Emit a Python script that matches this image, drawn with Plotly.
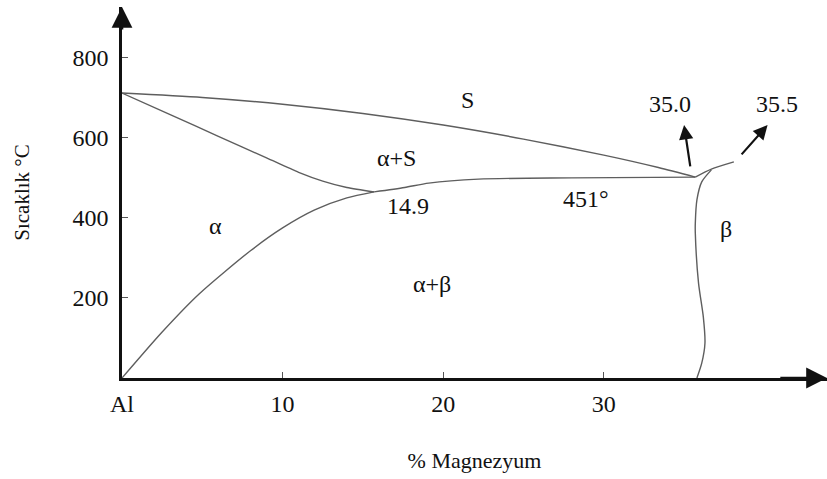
import plotly.graph_objects as go

# Al-Mg phase boundaries: (wt% Mg, temperature in °C)
liquidus_x = [0, 5, 10, 15, 20, 25, 30, 33.4, 35.7]
liquidus_t = [712, 701, 684, 661, 632, 597, 557, 526, 502]

solidus_x = [0, 3, 6, 9, 11, 12.5, 14.0, 15.7]
solidus_t = [712, 658, 604, 550, 514, 492, 476, 465]

solvus_x = [0, 2.5, 4.8, 8.0, 10.0, 12.0, 14.0, 15.7]
solvus_t = [0, 115, 210, 318, 375, 420, 450, 465]

eutectic_x = [15.7, 17.6, 19.1, 22.2, 28.0, 35.7]
eutectic_t = [465, 476, 487, 497, 500, 502]

beta_liq_x = [35.7, 36.7, 38.1]
beta_liq_t = [502, 522, 540]

beta_solvus_x = [36.7, 36.1, 35.8, 35.7, 35.7, 35.9, 36.2, 36.3, 36.1, 35.8]
beta_solvus_t = [520, 490, 445, 387, 362, 237, 152, 87, 37, 0]

# region and point labels: (text, wt% Mg, °C)
labels = [
    ("S", 21.5, 695),
    ("α+S", 17.1, 550),
    ("14.9", 17.8, 430),
    ("451°", 28.9, 447),
    ("α", 5.8, 380),
    ("α+β", 19.3, 234),
    ("β", 37.6, 372),
]

# composition callouts: (text, arrow tail x, tail T, tip x, tip T, text x, text T)
callouts = [
    ("35.0", 35.4, 525, 35.0, 632, 34.1, 684),
    ("35.5", 38.5, 555, 40.2, 632, 40.8, 684),
]

x_ticks = [0, 10, 20, 30]
x_tick_text = ["Al", "10", "20", "30"]
y_ticks = [200, 400, 600, 800]

x_max = 43.9
t_max = 927

serif = "Times New Roman, Liberation Serif, serif"
ink = "#111111"
curve_color = "#5e5e5e"

fig = go.Figure()

for xs, ts in [
    (liquidus_x, liquidus_t),
    (solidus_x, solidus_t),
    (solvus_x, solvus_t),
    (eutectic_x, eutectic_t),
    (beta_liq_x, beta_liq_t),
    (beta_solvus_x, beta_solvus_t),
]:
    fig.add_trace(go.Scatter(
        x=xs, y=ts, mode="lines",
        line=dict(color=curve_color, width=1.4, shape="spline", smoothing=0.7),
        hoverinfo="skip", showlegend=False,
    ))

annotations = []
for text, lx, lt in labels:
    annotations.append(dict(
        x=lx, y=lt, xref="x", yref="y", text=text, showarrow=False,
        font=dict(family=serif, size=24, color=ink),
    ))

for text, tx, tt, hx, ht, lx, lt in callouts:
    annotations.append(dict(
        x=hx, y=ht, ax=tx, ay=tt, xref="x", yref="y", axref="x", ayref="y",
        text="", showarrow=True, arrowhead=2, arrowsize=1.3, arrowwidth=2.2,
        arrowcolor=ink,
    ))
    annotations.append(dict(
        x=lx, y=lt, xref="x", yref="y", text=text, showarrow=False,
        font=dict(family=serif, size=24, color=ink),
    ))

# arrowheads at the ends of both axes
annotations.append(dict(
    x=0, y=t_max, ax=0, ay=t_max - 60, xref="x", yref="y", axref="x", ayref="y",
    text="", showarrow=True, arrowhead=2, arrowsize=1.6, arrowwidth=2.6,
    arrowcolor=ink,
))
annotations.append(dict(
    x=x_max, y=0, ax=x_max - 3, ay=0, xref="x", yref="y", axref="x", ayref="y",
    text="", showarrow=True, arrowhead=2, arrowsize=1.6, arrowwidth=2.6,
    arrowcolor=ink,
))

fig.update_layout(
    width=827, height=479,
    margin=dict(l=122, r=0, t=7, b=101),
    paper_bgcolor="white", plot_bgcolor="white",
    font=dict(family=serif, color=ink),
    annotations=annotations,
    xaxis=dict(
        range=[0, x_max], showgrid=False, zeroline=False,
        showline=True, linecolor=ink, linewidth=2.6,
        tickmode="array", tickvals=x_ticks, ticktext=x_tick_text,
        ticks="inside", ticklen=6, tickwidth=1, tickcolor="#555",
        tickfont=dict(family=serif, size=24, color=ink),
        ticklabelstandoff=2,
        title=dict(text="% Magnezyum", standoff=38,
                   font=dict(family=serif, size=22, color=ink)),
    ),
    yaxis=dict(
        range=[0, t_max], showgrid=False, zeroline=False,
        showline=True, linecolor=ink, linewidth=2.6,
        tickmode="array", tickvals=y_ticks,
        ticks="inside", ticklen=6, tickwidth=1, tickcolor="#555",
        tickfont=dict(family=serif, size=24, color=ink),
        ticklabelstandoff=6,
        title=dict(text="Sıcaklık °C", standoff=38,
                   font=dict(family=serif, size=21, color=ink)),
    ),
)

fig.write_html("out.html")
